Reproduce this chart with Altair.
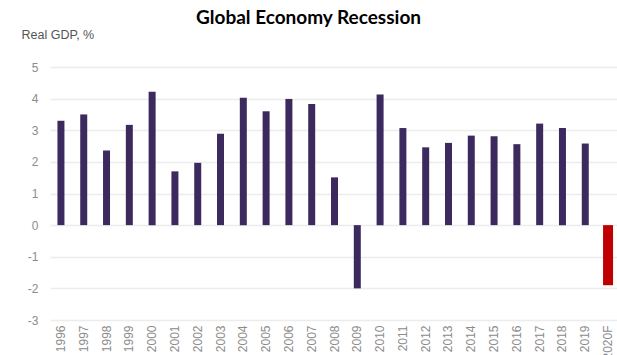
import altair as alt
import pandas as pd

years = ["1996", "1997", "1998", "1999", "2000", "2001", "2002", "2003", "2004",
         "2005", "2006", "2007", "2008", "2009", "2010", "2011", "2012", "2013",
         "2014", "2015", "2016", "2017", "2018", "2019", "2020F"]
gdp = [3.3, 3.5, 2.36, 3.17, 4.22, 1.7, 1.97, 2.89, 4.03,
       3.6, 3.99, 3.83, 1.51, -2.0, 4.13, 3.07, 2.46, 2.6,
       2.83, 2.81, 2.56, 3.21, 3.07, 2.58, -1.9]
kind = ["actual"] * 24 + ["forecast"]

df = pd.DataFrame({"Year": years, "GDP": gdp, "Kind": kind})

chart = alt.Chart(df).mark_bar().encode(
    x=alt.X("Year:N", sort=years,
            scale=alt.Scale(paddingInner=0.6, paddingOuter=0.28, range=[2, 571]),
            axis=alt.Axis(title=None, labelAngle=270, labelColor="#8c8c8c",
                          labelFontSize=12, labelFont="Liberation Sans",
                          ticks=False, domain=False, labelPadding=5, grid=False)),
    y=alt.Y("GDP:Q", scale=alt.Scale(domain=[-3, 5], nice=False),
            axis=alt.Axis(title="Real GDP, %", titleAngle=0, titleX=-27, titleY=-33,
                          titleAlign="left", titleBaseline="middle",
                          titleFont="Liberation Sans", titleFontSize=12.5,
                          titleFontWeight="normal", titleColor="#555555",
                          values=[-3, -2, -1, 0, 1, 2, 3, 4, 5],
                          labelExpr="'' + datum.value",
                          labelColor="#8c8c8c", labelFontSize=12,
                          labelFont="Liberation Sans", labelPadding=10,
                          ticks=False, domain=False,
                          gridColor="#ececec", gridWidth=1.5)),
    color=alt.Color("Kind:N", scale=alt.Scale(domain=["actual", "forecast"],
                                              range=["#3c2a5e", "#c00000"]),
                    legend=None),
    size=alt.condition(alt.datum.Kind == "forecast", alt.value(10), alt.value(7)),
).properties(
    width=569, height=253,
    title=alt.TitleParams("Global Economy Recession", font="Lato", fontSize=19,
                          fontWeight="bold", color="#000000", anchor="middle",
                          frame="group", dx=-24, offset=0),
    autosize=alt.AutoSizeParams(type="none"),
    padding={"left": 48, "top": 67, "right": 0, "bottom": 35},
).configure_view(stroke=None)

chart.save("out.html", embed_options={"renderer": "svg", "actions": False})
